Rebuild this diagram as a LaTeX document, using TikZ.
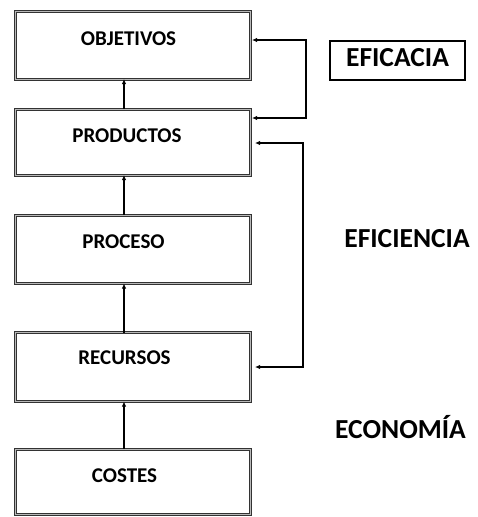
\documentclass[tikz,border=0pt]{standalone}
\usepackage{fontspec}
\setmainfont{Carlito}
\usetikzlibrary{arrows.meta}
\tikzset{
  box/.style={draw=black!80, double=gray!55, double distance=1pt, line width=1pt,
    rectangle, minimum width=235pt, inner sep=0pt, outer sep=0pt},
  lbl/.style={anchor=base, inner sep=0pt, font=\fontsize{21}{22}\selectfont\bfseries},
  big/.style={font=\fontsize{27.5}{30}\selectfont\bfseries},
  arr/.style={line width=1.2pt, -{Latex[length=5pt,width=4.5pt]}},
  fb/.style={line width=1.2pt, {Latex[length=5pt,width=4.5pt]}-{Latex[length=5pt,width=4.5pt]}},
}
\begin{document}
\begin{tikzpicture}[x=1pt,y=-1pt]
\useasboundingbox (0,0) rectangle (478,517);
% boxes
\node[box, minimum height=68pt] (obj) at (132.5,45) {};
\node[box, minimum height=66pt] (prod) at (132.5,142) {};
\node[box, minimum height=68.5pt] (proc) at (132.5,249.25) {};
\node[box, minimum height=69pt] (rec) at (132.5,367) {};
\node[box, minimum height=65pt] (cost) at (132.5,481.5) {};
% box labels
\node[lbl] (objt) at (128.5,45) {OBJETIVOS};
\node[lbl] (prodt) at (127,142) {PRODUCTOS};
\node[lbl] (proct) at (123.5,248) {PROCESO};
\node[lbl] (rect) at (124.5,364) {RECURSOS};
\node[lbl] (costt) at (124.5,482) {COSTES};
% vertical arrows
\coordinate (ax) at (124,0);
\draw[arr] (ax |- prod.north) -- (ax |- obj.south);
\draw[arr] (ax |- proc.north) -- (ax |- prod.south);
\draw[arr] (ax |- rec.north) -- (ax |- proc.south);
\draw[arr] (ax |- cost.north) -- (ax |- rec.south);
% feedback loops
\coordinate (l1a) at (306,40);
\coordinate (l1b) at (306,118);
\draw[fb, shorten <=2pt, shorten >=2pt] (obj.east |- l1a) -- (l1a) -- (l1b) -- (prod.east |- l1b);
\coordinate (l2a) at (303,143);
\coordinate (l2b) at (303,367);
\draw[fb, shorten <=5pt, shorten >=5pt] (prod.east |- l2a) -- (l2a) -- (l2b) -- (rec.east |- l2b);
% right labels
\node[big, draw, line width=1.2pt, minimum width=135pt, minimum height=39pt, inner sep=0pt, text depth=6pt] (efic) at (397.5,60.5) {EFICACIA};
\node[big, anchor=base, inner sep=0pt] (efi) at (407,247) {EFICIENCIA};
\node[big, anchor=base, inner sep=0pt] (eco) at (400.5,438) {ECONOMÍA};
\end{tikzpicture}
\end{document}
